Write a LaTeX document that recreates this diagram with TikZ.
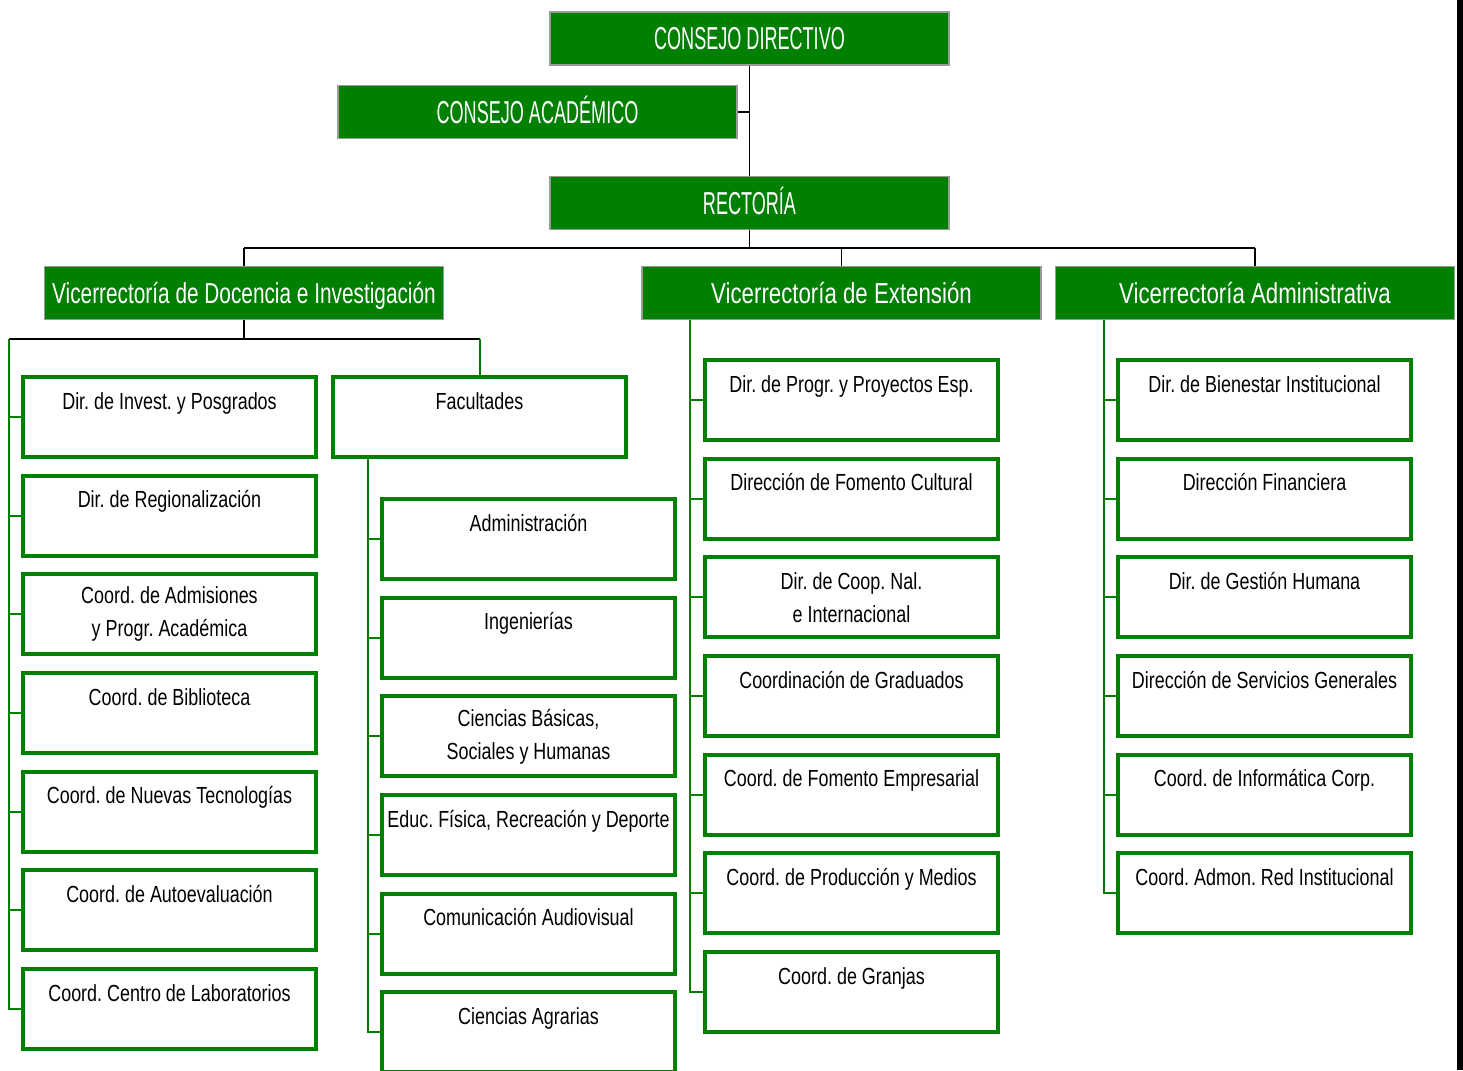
\documentclass[tikz,border=0pt]{standalone}
\usepackage{fontspec}
\setmainfont{Liberation Sans}[FakeStretch=0.77]
\newfontfamily\titlefont{Liberation Sans}[FakeStretch=0.57]
\newfontfamily\narrowfont{Liberation Sans}[FakeStretch=0.72]
\usepackage{xcolor}
\usetikzlibrary{positioning}
\definecolor{ofgreen}{HTML}{008000}
\definecolor{ofgray}{HTML}{9A9A9A}
\frenchspacing

\begin{document}
\begin{tikzpicture}[
    x=1pt, y=-1pt,
    node distance=14.67pt,
    board/.style={draw=ofgray, line width=1.5pt, fill=ofgreen, text=white, minimum width=399pt, minimum height=53pt, inner sep=0pt, text height=22.7pt, text depth=0pt, font=\titlefont\fontsize{31.7}{36}\selectfont},
    vice/.style={draw=ofgray, line width=1.5pt, fill=ofgreen, text=white, minimum width=399pt, minimum height=53pt, inner sep=0pt, text height=21pt, text depth=1pt, font=\fontsize{28.9}{34}\selectfont},
    unitbase/.style={draw=ofgreen, line width=4pt, fill=white, minimum width=293pt, minimum height=80pt, inner sep=2pt, align=center, font=\fontsize{23.3}{33}\selectfont},
    unit/.style={unitbase, text height=17pt, text depth=33pt},
    unittwo/.style={unitbase},
    link/.style={draw=black, line width=1.7pt},
    branch/.style={draw=ofgreen, line width=2pt}
]
    \useasboundingbox (0,0) rectangle (1463,1070);
    \clip (0,0) rectangle (1463,1070);

    % direccion general
    \node[board] (cd) at (749.5,38.5) {CONSEJO DIRECTIVO};
    \node[board] (ca) at (537.5,112) {CONSEJO ACADÉMICO};
    \node[board] (rect) at (749.5,203) {RECTORÍA};

    \draw[link] (cd.south) -- (rect.north);
    \draw[link] (ca.east) -- (ca.east -| cd.south);

    % vicerrectorias
    \node[vice, font=\narrowfont\fontsize{28.9}{34}\selectfont] (vd) at (244,293) {Vicerrectoría de Docencia e Investigación};
    \node[vice] (ve) at (841.5,293) {Vicerrectoría de Extensión};
    \node[vice] (va) at (1255,293) {Vicerrectoría Administrativa};

    \draw[link] (rect.south) -- ++(0,18) coordinate (bus);
    \draw[link] (bus -| vd.north) -- (bus -| va.north);
    \draw[link] (bus -| vd.north) -- (vd.north);
    \draw[link] (bus -| ve.north) -- (ve.north);
    \draw[link] (bus -| va.north) -- (va.north);

    % docencia e investigacion
    \node[unit, anchor=north west] (d1) at (21,375) {Dir. de Invest. y Posgrados};
    \node[unit, below=of d1] (d2) {Dir. de Regionalización};
    \node[unittwo, below=of d2] (d3) {Coord. de Admisiones\\y Progr. Académica};
    \node[unit, below=of d3] (d4) {Coord. de Biblioteca};
    \node[unit, below=of d4] (d5) {Coord. de Nuevas Tecnologías};
    \node[unit, below=of d5] (d6) {Coord. de Autoevaluación};
    \node[unit, below=of d6] (d7) {Coord. Centro de Laboratorios};
    \node[unit, anchor=north west] (fac) at (331,375) {Facultades};

    \draw[link] (vd.south) -- ++(0,19) coordinate (dbus);
    \coordinate (dleft) at (9,0 |- dbus);
    \draw[link] (dleft) -- (dbus -| fac.north);
    \draw[branch] (dbus -| fac.north) -- (fac.north);
    \draw[branch] (dleft) |- (d7.west);
    \draw[branch] (dleft |- d1.west) -- (d1.west);
    \draw[branch] (dleft |- d2.west) -- (d2.west);
    \draw[branch] (dleft |- d3.west) -- (d3.west);
    \draw[branch] (dleft |- d4.west) -- (d4.west);
    \draw[branch] (dleft |- d5.west) -- (d5.west);
    \draw[branch] (dleft |- d6.west) -- (d6.west);

    % facultades
    \node[unit, anchor=north west] (f1) at (380,497) {Administración};
    \node[unit, below=of f1] (f2) {Ingenierías};
    \node[unittwo, below=of f2] (f3) {Ciencias Básicas,\\Sociales y Humanas};
    \node[unit, below=of f3] (f4) {Educ. Física, Recreación y Deporte};
    \node[unit, below=of f4] (f5) {Comunicación Audiovisual};
    \node[unit, below=of f5] (f6) {Ciencias Agrarias};

    \coordinate (fbar) at (368,0 |- fac.south);
    \draw[branch] (fbar) |- (f6.west);
    \draw[branch] (fbar |- f1.west) -- (f1.west);
    \draw[branch] (fbar |- f2.west) -- (f2.west);
    \draw[branch] (fbar |- f3.west) -- (f3.west);
    \draw[branch] (fbar |- f4.west) -- (f4.west);
    \draw[branch] (fbar |- f5.west) -- (f5.west);

    % extension
    \node[unit, anchor=north west] (e1) at (703,358) {Dir. de Progr. y Proyectos Esp.};
    \node[unit, below=of e1] (e2) {Dirección de Fomento Cultural};
    \node[unittwo, below=of e2] (e3) {Dir. de Coop. Nal.\\e Internacional};
    \node[unit, below=of e3] (e4) {Coordinación de Graduados};
    \node[unit, below=of e4] (e5) {Coord. de Fomento Empresarial};
    \node[unit, below=of e5] (e6) {Coord. de Producción y Medios};
    \node[unit, below=of e6] (e7) {Coord. de Granjas};

    \coordinate (ebar) at (690,0 |- ve.south);
    \draw[branch] (ebar) |- (e7.west);
    \draw[branch] (ebar |- e1.west) -- (e1.west);
    \draw[branch] (ebar |- e2.west) -- (e2.west);
    \draw[branch] (ebar |- e3.west) -- (e3.west);
    \draw[branch] (ebar |- e4.west) -- (e4.west);
    \draw[branch] (ebar |- e5.west) -- (e5.west);
    \draw[branch] (ebar |- e6.west) -- (e6.west);

    % administrativa
    \node[unit, anchor=north west] (a1) at (1116,358) {Dir. de Bienestar Institucional};
    \node[unit, below=of a1] (a2) {Dirección Financiera};
    \node[unit, below=of a2] (a3) {Dir. de Gestión Humana};
    \node[unit, below=of a3] (a4) {Dirección de Servicios Generales};
    \node[unit, below=of a4] (a5) {Coord. de Informática Corp.};
    \node[unit, below=of a5] (a6) {Coord. Admon. Red Institucional};

    \coordinate (abar) at (1104,0 |- va.south);
    \draw[branch] (abar) |- (a6.west);
    \draw[branch] (abar |- a1.west) -- (a1.west);
    \draw[branch] (abar |- a2.west) -- (a2.west);
    \draw[branch] (abar |- a3.west) -- (a3.west);
    \draw[branch] (abar |- a4.west) -- (a4.west);
    \draw[branch] (abar |- a5.west) -- (a5.west);

    % borde derecho
    \fill[black] (1457,0) rectangle (1463,1070);
\end{tikzpicture}
\end{document}
